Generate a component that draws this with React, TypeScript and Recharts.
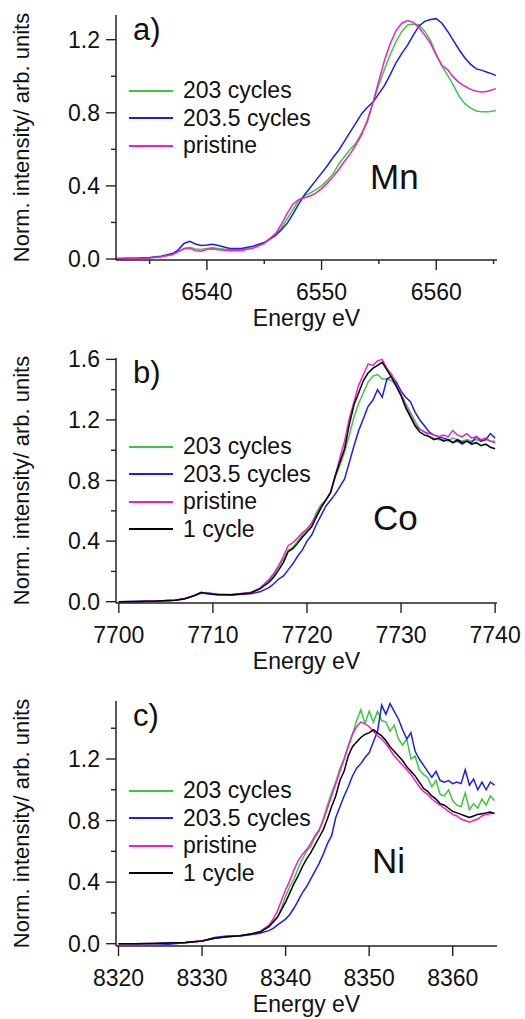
import { useMemo } from "react";
import { LineChart, Line, XAxis, YAxis, Legend } from "recharts";

// Mn K-edge (panel a)
const mnEnergy = [
  6532.1, 6533, 6534, 6535, 6536, 6537,
  6537.5, 6538, 6538.5, 6539, 6539.5, 6540, 6540.5, 6541,
  6542, 6543, 6544, 6545, 6546,
  6546.5, 6547, 6547.5, 6548, 6548.5, 6549, 6549.5, 6550, 6550.5, 6551,
  6551.5, 6552, 6552.5, 6553, 6553.5, 6554, 6554.5, 6555, 6555.5, 6556,
  6556.5, 6557, 6557.5, 6558, 6558.5, 6559, 6559.5, 6560, 6560.5, 6561,
  6561.5, 6562, 6562.5, 6563, 6563.5, 6564, 6564.5, 6565,
  6565.2,
];
const mnCycles203 = [
  0.002, 0.003, 0.004, 0.006, 0.012, 0.025,
  0.04, 0.058, 0.064, 0.055, 0.052, 0.058, 0.062, 0.058,
  0.05, 0.05, 0.06, 0.085, 0.13,
  0.17, 0.22, 0.27, 0.32, 0.345, 0.36, 0.38, 0.4, 0.43, 0.465,
  0.52, 0.56, 0.6, 0.635, 0.69, 0.75, 0.86, 0.955, 1.04, 1.12,
  1.19, 1.245, 1.28, 1.286, 1.28, 1.245, 1.195, 1.12, 1.055, 1.005,
  0.95, 0.89, 0.85, 0.825, 0.81, 0.805, 0.805, 0.81,
  0.812,
];
const mnCycles2035 = [
  0.003, 0.004, 0.005, 0.008, 0.015, 0.03,
  0.05, 0.085, 0.097, 0.082, 0.074, 0.076, 0.08, 0.074,
  0.058, 0.058, 0.07, 0.09, 0.13,
  0.16, 0.195, 0.245, 0.3, 0.35, 0.39, 0.43, 0.47, 0.51, 0.555,
  0.595, 0.645, 0.695, 0.745, 0.795, 0.83, 0.86, 0.905, 0.95, 1.01,
  1.075, 1.125, 1.17, 1.225, 1.275, 1.3, 1.31, 1.315, 1.29, 1.245,
  1.195, 1.145, 1.1, 1.065, 1.04, 1.032, 1.02, 1.01,
  1.003,
];
const mnPristine = [
  0.002, 0.003, 0.004, 0.006, 0.012, 0.025,
  0.04, 0.056, 0.058, 0.045, 0.042, 0.052, 0.056, 0.05,
  0.045, 0.046, 0.058, 0.085, 0.14,
  0.19, 0.25, 0.3, 0.325, 0.335, 0.345, 0.36, 0.385, 0.415, 0.45,
  0.49, 0.535, 0.575, 0.625, 0.68, 0.76, 0.86, 0.975, 1.09, 1.18,
  1.25, 1.29, 1.305, 1.295, 1.265, 1.225, 1.18, 1.115, 1.06, 1.035,
  0.995, 0.965, 0.945, 0.928, 0.918, 0.914, 0.918, 0.928,
  0.932,
];

// Co K-edge (panel b)
const coEnergy = [
  7700, 7702, 7704, 7706, 7707, 7708, 7708.75, 7709.5, 7710.5, 7712, 7714, 7715, 7716,
  7716.5, 7717, 7717.5, 7718, 7718.5, 7719, 7719.5, 7720, 7720.5, 7721,
  7721.5, 7722, 7722.5, 7723, 7723.5, 7724, 7724.5, 7725, 7725.5, 7726,
  7726.5, 7727, 7727.5, 7728, 7728.5, 7729, 7729.5, 7730, 7730.5, 7731,
  7731.5, 7732, 7732.5, 7733, 7733.5, 7734, 7734.5, 7735, 7735.5, 7736,
  7736.5, 7737, 7737.5, 7738, 7738.5, 7739, 7739.5, 7740,
];
const coCycles203 = [
  0, 0.002, 0.004, 0.01, 0.02, 0.038, 0.056, 0.052, 0.046, 0.046, 0.06, 0.085, 0.14,
  0.18, 0.23, 0.28, 0.34, 0.36, 0.4, 0.44, 0.48, 0.51, 0.59,
  0.64, 0.67, 0.72, 0.82, 0.9, 0.99, 1.1, 1.22, 1.31, 1.38,
  1.45, 1.49, 1.5, 1.47, 1.47, 1.46, 1.43, 1.37, 1.31, 1.25,
  1.19, 1.14, 1.12, 1.09, 1.08, 1.07, 1.07, 1.06, 1.08, 1.07,
  1.06, 1.07, 1.06, 1.07, 1.06, 1.07, 1.06, 1.06,
];
const coCycles2035 = [
  0, 0.002, 0.004, 0.01, 0.02, 0.04, 0.06, 0.058, 0.05, 0.045, 0.052, 0.065, 0.095,
  0.12, 0.15, 0.17, 0.21, 0.25, 0.3, 0.34, 0.4, 0.44, 0.51,
  0.57, 0.63, 0.67, 0.71, 0.76, 0.81, 0.92, 1.03, 1.13, 1.21,
  1.29, 1.33, 1.4, 1.35, 1.47, 1.49, 1.45, 1.39, 1.35, 1.32,
  1.25, 1.2, 1.16, 1.12, 1.1, 1.09, 1.08, 1.07, 1.05, 1.06,
  1.04, 1.06, 1.05, 1.09, 1.06, 1.07, 1.11, 1.08,
];
const coPristine = [
  0, 0.002, 0.004, 0.01, 0.02, 0.04, 0.06, 0.055, 0.048, 0.048, 0.06, 0.09, 0.15,
  0.19, 0.24, 0.3, 0.37, 0.39, 0.42, 0.455, 0.48, 0.52, 0.57,
  0.63, 0.67, 0.72, 0.83, 0.95, 1.06, 1.21, 1.32, 1.43, 1.5,
  1.57, 1.56, 1.59, 1.6, 1.54, 1.5, 1.43, 1.37, 1.29, 1.23,
  1.17, 1.14, 1.12, 1.11, 1.1, 1.09, 1.1, 1.09, 1.13, 1.1,
  1.09, 1.11, 1.08, 1.09, 1.07, 1.08, 1.06, 1.05,
];
const coCycle1 = [
  0, 0.002, 0.004, 0.01, 0.02, 0.04, 0.06, 0.052, 0.046, 0.046, 0.058, 0.085, 0.13,
  0.165, 0.21, 0.26, 0.33, 0.35, 0.385, 0.425, 0.46, 0.495, 0.56,
  0.62, 0.67, 0.72, 0.83, 0.92, 1.01, 1.17, 1.3, 1.38, 1.46,
  1.51, 1.54, 1.56, 1.58, 1.53, 1.48, 1.42, 1.36, 1.28, 1.22,
  1.16, 1.12, 1.1, 1.09, 1.07, 1.08, 1.06, 1.07, 1.05, 1.07,
  1.05, 1.06, 1.04, 1.05, 1.03, 1.04, 1.02, 1.01,
];

// Ni K-edge (panel c)
const niEnergy = [
  8320, 8322, 8324, 8326, 8328, 8330, 8331.5, 8333, 8334.5, 8336, 8337, 8338,
  8338.5, 8339, 8339.5, 8340, 8340.5, 8341, 8341.5, 8342, 8342.5, 8343,
  8343.5, 8344, 8344.5, 8345, 8345.5, 8346, 8346.5, 8347, 8347.5, 8348,
  8348.5, 8349, 8349.5, 8350, 8350.5, 8351, 8351.5, 8352, 8352.5, 8353,
  8353.5, 8354, 8354.5, 8355, 8355.5, 8356, 8356.5, 8357, 8357.5, 8358,
  8358.5, 8359, 8359.5, 8360, 8360.5, 8361, 8361.5, 8362, 8362.5, 8363,
  8363.5, 8364, 8364.5, 8365,
];
const niCycles203 = [
  0, 0, 0.002, 0.004, 0.008, 0.018, 0.035, 0.045, 0.05, 0.065, 0.078, 0.11,
  0.15, 0.17, 0.23, 0.31, 0.37, 0.42, 0.49, 0.55, 0.6, 0.63,
  0.69, 0.73, 0.81, 0.9, 0.98, 1.05, 1.14, 1.2, 1.29, 1.36,
  1.45, 1.52, 1.43, 1.51, 1.44, 1.51, 1.45, 1.44, 1.38, 1.42,
  1.33, 1.29, 1.33, 1.2, 1.22, 1.13, 1.1, 1.08, 1.02, 1.06,
  0.97, 0.96, 1.0, 0.93, 0.9, 0.89, 0.98, 0.87, 0.91, 0.88,
  0.94, 0.9, 0.96, 0.93,
];
const niCycles2035 = [
  0, 0, 0, -0.003, 0.006, 0.018, 0.04, 0.05, 0.05, 0.06, 0.07, 0.085,
  0.1, 0.12, 0.14, 0.16, 0.19, 0.23, 0.28, 0.33, 0.37, 0.42,
  0.47, 0.52, 0.58, 0.65, 0.7, 0.82, 0.89, 0.96, 1.02, 1.09,
  1.14, 1.17, 1.21, 1.24, 1.31, 1.38, 1.55, 1.49, 1.56, 1.51,
  1.46, 1.39, 1.33, 1.37, 1.25, 1.2, 1.16, 1.12, 1.08, 1.12,
  1.06, 1.05, 1.06, 1.04, 1.05, 1.04, 1.13, 1.03, 1.07, 1.0,
  1.05, 1.0, 1.05, 1.03,
];
const niPristine = [
  0, 0, 0.002, 0.004, 0.008, 0.018, 0.035, 0.045, 0.052, 0.065, 0.08, 0.12,
  0.16, 0.21, 0.28, 0.35, 0.41, 0.48, 0.54, 0.58, 0.61, 0.65,
  0.7, 0.74, 0.8, 0.88, 0.96, 1.04, 1.12, 1.2, 1.28, 1.36,
  1.41, 1.44, 1.43, 1.41, 1.38, 1.35, 1.33, 1.3, 1.26, 1.22,
  1.19, 1.16, 1.13, 1.1, 1.06, 1.02, 0.99, 0.97, 0.94, 0.92,
  0.9, 0.88, 0.86, 0.84, 0.83, 0.81, 0.8, 0.79, 0.8, 0.81,
  0.83, 0.84, 0.845, 0.85,
];
const niCycle1 = [
  0, 0, 0.002, 0.004, 0.008, 0.018, 0.035, 0.045, 0.052, 0.065, 0.078, 0.11,
  0.14, 0.17, 0.22, 0.27, 0.33, 0.39, 0.44, 0.5, 0.55, 0.59,
  0.64, 0.69, 0.74, 0.81, 0.89, 0.96, 1.06, 1.12, 1.22, 1.28,
  1.31, 1.34, 1.36, 1.37, 1.39, 1.37, 1.35, 1.32, 1.28, 1.25,
  1.22, 1.19, 1.15, 1.12, 1.09, 1.05, 1.01, 0.99, 0.96, 0.94,
  0.91, 0.9, 0.88, 0.86, 0.85, 0.84, 0.83, 0.82, 0.83, 0.84,
  0.845, 0.85, 0.855, 0.845,
];

const seriesNames = ["203 cycles", "203.5 cycles", "pristine", "1 cycle"];
const seriesColors = ["#3cc83c", "#1e1ee6", "#f020c8", "#000000"];

const mnXTicks = [6535, 6540, 6545, 6550, 6555, 6560, 6565];
const mnXMajor = [6540, 6550, 6560];
const mnYTicks = [0, 0.2, 0.4, 0.6, 0.8, 1.0, 1.2];
const coXTicks = [7700, 7710, 7720, 7730, 7740];
const coYTicks = [0, 0.2, 0.4, 0.6, 0.8, 1.0, 1.2, 1.4, 1.6];
const niXTicks = [8320, 8330, 8340, 8350, 8360];
const niYTicks = [0, 0.2, 0.4, 0.6, 0.8, 1.0, 1.2, 1.4];
const yMajor = [0, 0.4, 0.8, 1.2, 1.6];

const INK = "#111";
const FONT = '"Liberation Sans", Arial, sans-serif';
const frame = { stroke: "#222", strokeWidth: 1.5 };
const tickText = { fontSize: "23px", fontFamily: FONT, fill: INK };

const isIn = (list: number[], v: number) => list.some((m) => Math.abs(m - v) < 1e-6);

function XTick(props: any) {
  const { x, y, payload, major } = props;
  const big = isIn(major, payload.value);
  return (
    <g>
      <line x1={x} x2={x} y1={y} y2={y + (big ? 10 : 4)} stroke="#222" strokeWidth={1.4} />
      {big && (
        <text x={x} y={y + 40} textAnchor="middle" style={tickText}>
          {payload.value}
        </text>
      )}
    </g>
  );
}

function YTick(props: any) {
  const { x, y, payload, major } = props;
  const big = isIn(major, payload.value);
  return (
    <g>
      <line x1={x - (big ? 10 : 5)} x2={x} y1={y} y2={y} stroke="#222" strokeWidth={1.4} />
      {big && (
        <text x={x - 16} y={y + 8} textAnchor="end" style={tickText}>
          {payload.value.toFixed(1)}
        </text>
      )}
    </g>
  );
}

function renderLegend(props: any) {
  const items = props.payload || [];
  return (
    <div>
      {items.map((p: any) => (
        <div key={p.value} style={{ display: "flex", alignItems: "center", height: 27.5 }}>
          <div style={{ width: 44, height: 2, background: p.color }} />
          <span style={{ marginLeft: 10, fontSize: 23, lineHeight: "27.5px", color: INK, whiteSpace: "nowrap" }}>
            {p.value}
          </span>
        </div>
      ))}
    </div>
  );
}

interface PanelProps {
  energy: number[];
  series: number[][];
  xDomain: [number, number];
  yDomain: [number, number];
  xTicks: number[];
  xMajor: number[];
  yTicks: number[];
  letter: string;
  element: string;
  height: number;
  bottom: number;
  legendTop: number;
  elementLeft: number;
  elementTop: number;
}

function Panel(p: PanelProps) {
  const data = useMemo(
    () =>
      p.energy.map((e, i) => {
        const row: Record<string, number> = { e };
        p.series.forEach((vals, k) => {
          row["s" + k] = vals[i];
        });
        return row;
      }),
    [p.energy, p.series]
  );

  return (
    <div style={{ position: "relative", width: 525, height: p.height }}>
      <LineChart width={525} height={p.height} data={data} margin={{ top: 15, right: 28, bottom: p.bottom, left: 0 }}>
        <XAxis
          dataKey="e"
          type="number"
          domain={p.xDomain}
          allowDataOverflow
          ticks={p.xTicks}
          interval={0}
          tickSize={0}
          tickMargin={0}
          tickLine={false}
          tick={(t: any) => <XTick {...t} major={p.xMajor} />}
          axisLine={frame}
          height={70}
          label={{ value: "Energy eV", position: "insideBottom", offset: 4, fill: INK, fontSize: 23 }}
        />
        <XAxis xAxisId="top" orientation="top" type="number" domain={p.xDomain} allowDataOverflow height={0} tick={false} tickLine={false} axisLine={frame} />
        <YAxis
          type="number"
          domain={p.yDomain}
          allowDataOverflow
          ticks={p.yTicks}
          interval={0}
          width={116}
          tickSize={0}
          tickMargin={0}
          tickLine={false}
          tick={(t: any) => <YTick {...t} major={yMajor} />}
          axisLine={frame}
          label={{
            value: "Norm. intensity/ arb. units",
            angle: -90,
            position: "insideLeft",
            offset: 21,
            fill: INK,
            fontSize: 22,
            style: { textAnchor: "middle" },
          }}
        />
        <YAxis yAxisId="right" orientation="right" type="number" domain={[0, 1]} width={0} tick={false} tickLine={false} axisLine={frame} />
        <Legend
          layout="vertical"
          align="center"
          verticalAlign="middle"
          itemSorter="dataKey"
          wrapperStyle={{ left: 129, top: p.legendTop, width: 260 }}
          content={renderLegend}
        />
        {p.series.map((_, k) => (
          <Line
            key={k}
            type="linear"
            dataKey={"s" + k}
            name={seriesNames[k]}
            stroke={seriesColors[k]}
            strokeWidth={1.5}
            dot={false}
            isAnimationActive={false}
          />
        ))}
      </LineChart>
      <div style={{ position: "absolute", left: 133, top: 14, fontSize: 31, lineHeight: 1, color: INK }}>{p.letter}</div>
      <div style={{ position: "absolute", left: p.elementLeft, top: p.elementTop, fontSize: 35, lineHeight: 1, color: INK }}>
        {p.element}
      </div>
    </div>
  );
}

export default function App() {
  return (
    <div
      style={{
        position: "absolute",
        left: 0,
        top: 0,
        width: 525,
        height: 1019,
        background: "#fff",
        fontFamily: FONT,
        overflow: "hidden",
      }}
    >
      <Panel
        energy={mnEnergy}
        series={[mnCycles203, mnCycles2035, mnPristine]}
        xDomain={[6532.07, 6565.3]}
        yDomain={[-0.0055, 1.335]}
        xTicks={mnXTicks}
        xMajor={mnXMajor}
        yTicks={mnYTicks}
        letter="a)"
        element="Mn"
        height={343}
        bottom={13}
        legendTop={77}
        elementLeft={370}
        elementTop={158.7}
      />
      <Panel
        energy={coEnergy}
        series={[coCycles203, coCycles2035, coPristine, coCycle1]}
        xDomain={[7699.7, 7740.2]}
        yDomain={[-0.0086, 1.609]}
        xTicks={coXTicks}
        xMajor={coXTicks}
        yTicks={coYTicks}
        letter="b)"
        element="Co"
        height={343}
        bottom={13}
        legendTop={90}
        elementLeft={373}
        elementTop={156.7}
      />
      <Panel
        energy={niEnergy}
        series={[niCycles203, niCycles2035, niPristine, niCycle1]}
        xDomain={[8319.7, 8365.3]}
        yDomain={[-0.015, 1.577]}
        xTicks={niXTicks}
        xMajor={niXTicks}
        yTicks={niYTicks}
        letter="c)"
        element="Ni"
        height={333}
        bottom={3}
        legendTop={91}
        elementLeft={372}
        elementTop={156.7}
      />
    </div>
  );
}
